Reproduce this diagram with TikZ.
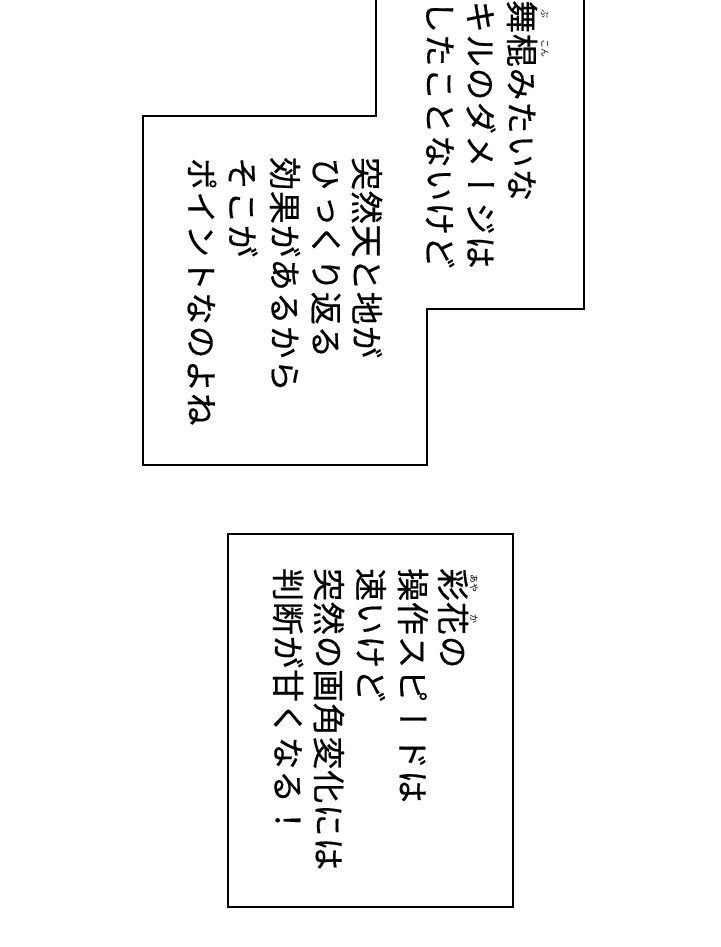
\documentclass[tikz,border=0pt]{standalone}
\usepackage{fontspec}
\newfontfamily\jv[Vertical=RotatedGlyphs, LetterSpace=2, FakeBold=0.4]{Noto Sans CJK JP}
\newfontfamily\jvr[Vertical=RotatedGlyphs]{Noto Sans CJK JP}
\tikzset{
  col/.style={rotate=-90, anchor=west, inner sep=0pt, font=\jv\fontsize{33}{33}\selectfont},
  rubytext/.style={rotate=-90, anchor=west, inner sep=0pt, font=\jvr\fontsize{9}{9}\selectfont},
  frame/.style={draw=black, line width=1.4pt, line join=miter}
}
\begin{document}
\begin{tikzpicture}[x=1pt,y=-1pt]
\useasboundingbox (0,0) rectangle (720,947);
\fill[white] (0,0) rectangle (720,947);
% combined balloon (top, cut by the page edge)
\draw[frame] (376,-3) -- (376,116) -- (143,116) -- (143,465) -- (427,465) -- (427,309) -- (584,309) -- (584,-3);
% lower box
\draw[frame] (228,534) rectangle (513,907);
% top block
\node[col] (a1) at (522,0) {舞棍みたいな};
\node[col] (a2) at (481,0) {キルのダメージは};
\node[col] (a3) at (440,0) {したことないけど};
\node[rubytext] (ra1) at (545,9) {ぶ};
\node[rubytext] (ra2) at (545,39) {こん};
% middle block
\node[col] (b1) at (367,157) {突然天と地が};
\node[col] (b2) at (326,157) {ひっくり返る};
\node[col] (b3) at (285,157) {効果があるから};
\node[col] (b4) at (243,157) {そこが};
\node[col] (b5) at (202,157) {ポイントなのよね};
% lower block
\node[col] (c1) at (453,568) {彩花の};
\node[col] (c2) at (413,568) {操作スピードは};
\node[col] (c3) at (371,568) {速いけど};
\node[col] (c4) at (329,568) {突然の画角変化には};
\node[col] (c5) at (288,568) {判断が甘くなる！};
\node[rubytext] (rc1) at (474,574) {あや};
\node[rubytext] (rc2) at (474,614) {か};
\end{tikzpicture}
\end{document}
